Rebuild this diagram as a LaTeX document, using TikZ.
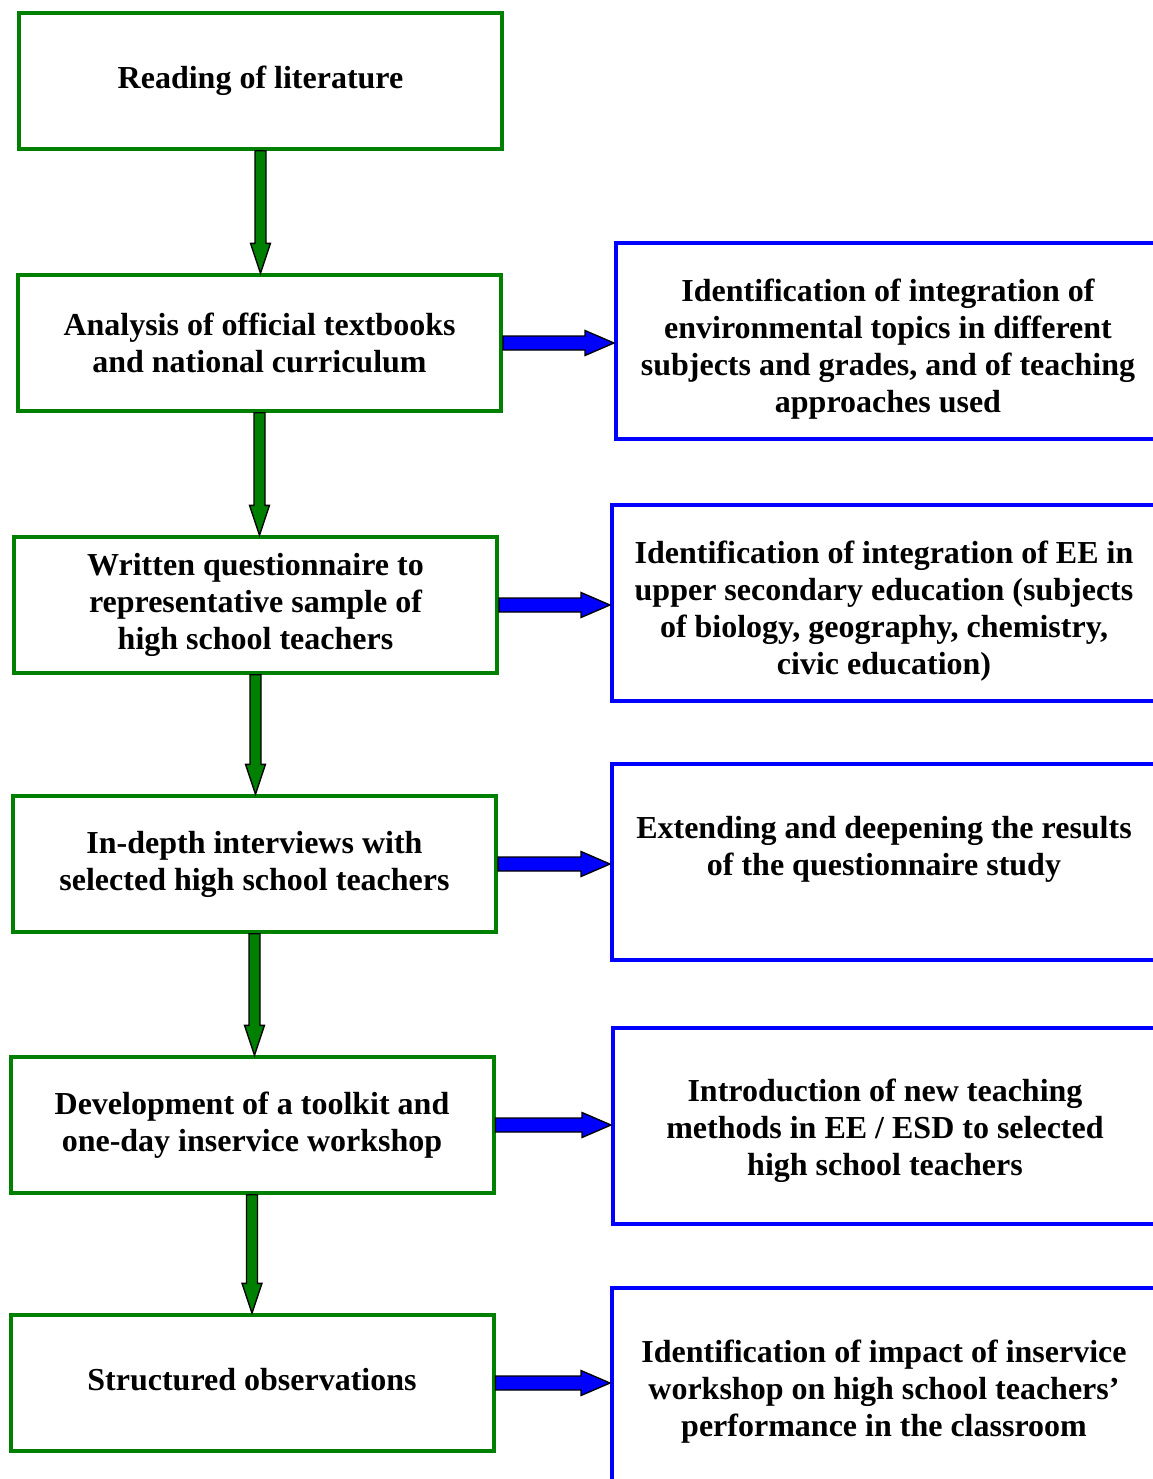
\documentclass[tikz,border=0pt]{standalone}
\usepackage{fontspec}
\setmainfont{Liberation Serif}
\usetikzlibrary{calc}
\definecolor{boxgreen}{RGB}{0,128,0}
\definecolor{boxblue}{RGB}{0,0,255}
\tikzset{
  txt/.style={align=center, inner sep=0pt,
    font=\fontsize{24pt}{27.75pt}\selectfont\bfseries},
  base/.style={txt, rectangle, line width=3pt},
  gbox/.style={base, draw=boxgreen, minimum width=362.25pt, minimum height=101.5pt},
  bbox/.style={base, draw=boxblue, minimum width=408pt, minimum height=147pt},
  garrow/.style={draw=black, line width=1pt, fill=boxgreen, line join=miter},
  barrow/.style={draw=black, line width=1pt, fill=boxblue, line join=miter}
}
\newcommand\vArrow[2]{%
  \draw[garrow] let \p1=(#1.south), \p2=(#2.north) in
    ({\x1-4.125pt},{\y1}) -- ({\x1-4.125pt},{\y2+22.5pt}) -- ({\x1-7.5pt},{\y2+22.5pt})
    -- ({\x1},{\y2}) -- ({\x1+7.5pt},{\y2+22.5pt}) -- ({\x1+4.125pt},{\y2+22.5pt})
    -- ({\x1+4.125pt},{\y1}) -- cycle;}
\newcommand\hArrow[2]{%
  \draw[barrow] let \p1=(#1.east), \p2=(#2.west) in
    ({\x1},{\y1+5.25pt}) -- ({\x2-21.75pt},{\y1+5.25pt}) -- ({\x2-21.75pt},{\y1+9.375pt})
    -- ({\x2},{\y1}) -- ({\x2-21.75pt},{\y1-9.375pt}) -- ({\x2-21.75pt},{\y1-5.25pt})
    -- ({\x1},{\y1-5.25pt}) -- cycle;}
\begin{document}
\begin{tikzpicture}[x=0.75pt,y=-0.75pt]
\useasboundingbox (0,0) rectangle (1153,1479);
\clip (0,0) rectangle (1153,1479);
% green boxes
\node[gbox] (g1) at (260.5,81) {Reading of literature};
\node[gbox] (g2) at (259.5,343) {Analysis of official textbooks\\and national curriculum};
\node[gbox] (g3) at (255.5,605) {Written questionnaire to\\representative sample of\\high school teachers};
\node[gbox] (g4) at (254.5,864) {In-depth interviews with\\selected high school teachers};
\node[gbox] (g5) at (252,1125) {Development of a toolkit and\\one-day inservice workshop};
\node[gbox] (g6) at (252,1383) {};
\node[txt] (g6t) at ($(g6)+(0,-3)$) {Structured observations};
% blue boxes
\node[bbox] (b1) at (888,341) {};
\node[txt] (b1t) at ($(b1)+(0,8)$) {Identification of integration of\\environmental topics in different\\subjects and grades, and of teaching\\approaches used};
\node[bbox] (b2) at (884,603) {};
\node[txt] (b2t) at ($(b2)+(0,8)$) {Identification of integration of EE in\\upper secondary education (subjects\\of biology, geography, chemistry,\\civic education)};
\node[bbox] (b3) at (884,862) {};
\node[txt, anchor=north] (b3t) at ($(b3.north)+(0,54)$) {Extending and deepening the results\\of the questionnaire study};
\node[bbox] (b4) at (885,1125.5) {};
\node[txt] (b4t) at ($(b4)+(0,5)$) {Introduction of new teaching\\methods in EE / ESD to selected\\high school teachers};
\node[bbox] (b5) at (884,1386) {};
\node[txt] (b5t) at ($(b5)+(0,6)$) {Identification of impact of inservice\\workshop on high school teachers'\\performance in the classroom};
% arrows
\vArrow{g1}{g2}
\vArrow{g2}{g3}
\vArrow{g3}{g4}
\vArrow{g4}{g5}
\vArrow{g5}{g6}
\hArrow{g2}{b1}
\hArrow{g3}{b2}
\hArrow{g4}{b3}
\hArrow{g5}{b4}
\hArrow{g6}{b5}
\end{tikzpicture}
\end{document}
